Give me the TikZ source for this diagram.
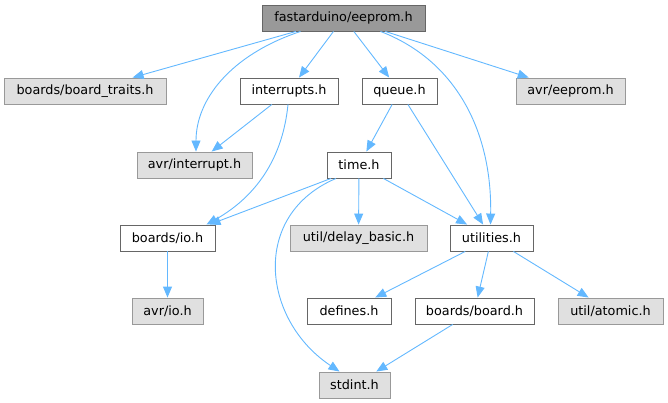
\documentclass[tikz,border=0pt]{standalone}
\usepackage{fontspec}
\setmainfont{DejaVu Sans}
\usetikzlibrary{arrows.meta}
\definecolor{edgec}{HTML}{63B8FF}
\definecolor{rootfill}{HTML}{999999}
\definecolor{darkb}{HTML}{666666}
\definecolor{grayfill}{HTML}{E0E0E0}
\definecolor{grayb}{HTML}{999999}
\tikzset{
  box/.style={draw=darkb, fill=white, line width=0.9pt, minimum height=26pt, inner sep=0pt, font=\fontsize{12.8}{14}\selectfont},
  rootbox/.style={box, fill=rootfill},
  extbox/.style={box, draw=grayb, fill=grayfill},
  dep/.style={draw=edgec, line width=0.9pt, -{Triangle[length=11pt,width=9pt]}},
}
\begin{document}
\begin{tikzpicture}[x=1pt,y=-1pt]
\useasboundingbox (0,0) rectangle (668,403);
\node[rootbox, minimum width=163pt] (root) at (343.5,18) {fastarduino/eeprom.h};
\node[extbox, minimum width=162pt] (traits) at (85,91) {boards/board\_traits.h};
\node[box, minimum width=98pt] (intr) at (289,91) {interrupts.h};
\node[box, minimum width=75pt] (queue) at (399.5,91) {queue.h};
\node[extbox, minimum width=109pt] (avreep) at (570.5,91) {avr/eeprom.h};
\node[extbox, minimum width=115pt] (avrint) at (194.5,165) {avr/interrupt.h};
\node[box, minimum width=64pt] (time) at (359,165) {time.h};
\node[box, minimum width=95pt] (bio) at (167.5,238) {boards/io.h};
\node[extbox, minimum width=137pt] (delay) at (358.5,238) {util/delay\_basic.h};
\node[box, minimum width=83pt] (util) at (491.5,238) {utilities.h};
\node[extbox, minimum width=71pt] (avrio) at (167.5,311) {avr/io.h};
\node[box, minimum width=84pt] (defs) at (349,311) {defines.h};
\node[box, minimum width=119pt] (board) at (474.5,311) {boards/board.h};
\node[extbox, minimum width=105pt] (atomic) at (610.5,311) {util/atomic.h};
\node[extbox, minimum width=71pt] (stdint) at (354.5,385) {stdint.h};

\draw[dep] (root) -- (traits);
\draw[dep] (root) -- (intr);
\draw[dep] (root) -- (queue);
\draw[dep] (root) -- (avreep);
\draw[dep] ([xshift=-43pt]root.south) .. controls (230,55) and (196,100) .. ([xshift=1.5pt]avrint.north);
\draw[dep] ([xshift=37pt]root.south) .. controls (455,60) and (492,130) .. ([xshift=-1pt]util.north);
\draw[dep] (intr) -- (avrint);
\draw[dep] ([xshift=-1pt]intr.south) .. controls (282,165) and (250,200) .. ([xshift=39pt]bio.north);
\draw[dep] (queue) -- (time);
\draw[dep] (queue) -- (util);
\draw[dep] ([xshift=-28pt]time.south) -- ([xshift=42pt]bio.north);
\draw[dep] (time) -- (delay);
\draw[dep] (time) -- (util);
\draw[dep] ([xshift=-23pt]time.south) .. controls (250,215) and (262,320) .. ([xshift=-15pt]stdint.north);
\draw[dep] (bio) -- (avrio);
\draw[dep] (util) -- (defs);
\draw[dep] (util) -- (board);
\draw[dep] (util) -- (atomic);
\draw[dep] (board) -- (stdint);
\end{tikzpicture}
\end{document}
